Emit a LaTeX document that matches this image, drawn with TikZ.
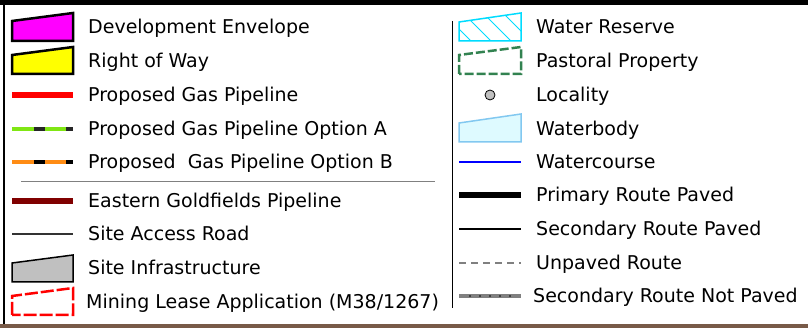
\documentclass[tikz,border=0pt]{standalone}
\usepackage{fontspec}
\setmainfont{DejaVu Sans}
\usetikzlibrary{positioning}

\definecolor{magentaenv}{RGB}{255,0,255}
\definecolor{waycol}{RGB}{255,255,0}
\definecolor{optgreen}{RGB}{128,230,20}
\definecolor{optorange}{RGB}{255,140,20}
\definecolor{goldfields}{RGB}{128,0,0}
\definecolor{infragray}{RGB}{192,192,192}
\definecolor{reservecyan}{RGB}{0,220,255}
\definecolor{pastoral}{RGB}{50,130,80}
\definecolor{waterfill}{RGB}{222,250,255}
\definecolor{waterline}{RGB}{130,200,240}
\definecolor{mapbrown}{RGB}{120,90,72}

\tikzset{
  legtext/.style={anchor=base west, inner sep=0pt, font=\fontsize{19}{22}\selectfont},
  legsym/.style={line width=1.5pt, line join=miter},
}

\begin{document}
\begin{tikzpicture}[x=1pt, y=-1pt]
	\useasboundingbox (0,0) rectangle (808,328);
	% frame of the legend
	\fill[black] (0,0) rectangle (808,5);
	\fill[mapbrown] (0,324) rectangle (808,328);
	\draw[line width=1.5pt] (4,5) -- (4,324);
	\draw[line width=1pt] (452,21) -- (452,308);
	\draw[line width=1pt, gray] (21,182) -- (435,182);

	% left column
	\filldraw[legsym, line width=2.5pt, fill=magentaenv] (12,41) -- (12,21) -- (73,13) -- (73,41) -- cycle;
	\node [legtext] (envelope) at (88,34) {Development Envelope};
	\filldraw[legsym, line width=2.5pt, fill=waycol] (12,74) -- (12,55) -- (73,47) -- (73,74) -- cycle;
	\node [legtext] (rightofway) at (88,68) {Right of Way};
	\draw[red, line width=5.5pt] (12,95) -- (73,95);
	\node [legtext] (gaspipe) at (88,102) {Proposed Gas Pipeline};
	\draw[optgreen, line width=4.5pt] (12,129) -- (73,129);
	\draw[black!85, line width=4.5pt] (34,129) -- (45,129) (66,129) -- (73,129);
	\node [legtext] (optiona) at (88,136) {Proposed Gas Pipeline Option A};
	\draw[optorange, line width=4.5pt] (12,162) -- (73,162);
	\draw[black, line width=4.5pt] (34,162) -- (45,162) (66,162) -- (73,162);
	\node [legtext] (optionb) at (88,169) {Proposed\ \ Gas Pipeline Option B};
	\draw[goldfields, line width=5.5pt] (12,201) -- (73,201);
	\node [legtext] (goldfields) at (88,208) {Eastern Goldfields Pipeline};
	\draw[black!80, line width=2pt] (12,234) -- (73,234);
	\node [legtext] (access) at (88,241) {Site Access Road};
	\filldraw[legsym, fill=infragray] (12,282) -- (12,263) -- (73,255) -- (73,282) -- cycle;
	\node [legtext] (infra) at (88,275) {Site Infrastructure};
	\draw[legsym, red, line width=2.5pt, dash pattern=on 13pt off 3pt] (12,315) -- (12,296) -- (73,288) -- (73,315) -- cycle;
	\node [legtext] (lease) at (86,309) {Mining Lease Application (M38/1267)};

	% right column
	\begin{scope}
		\clip (459,41) -- (459,22) -- (521,13) -- (521,41) -- cycle;
		\foreach \s in {440,460,480,500,520}
			\draw[reservecyan, line width=0.8pt] (\s,10) -- (\s+34,44);
	\end{scope}
	\draw[legsym, reservecyan] (459,41) -- (459,22) -- (521,13) -- (521,41) -- cycle;
	\node [legtext] (reserve) at (536,34) {Water Reserve};
	\draw[legsym, pastoral, line width=2.5pt, dash pattern=on 9pt off 3pt] (459,74) -- (459,55) -- (521,47) -- (521,74) -- cycle;
	\node [legtext] (pastoral) at (536,68) {Pastoral Property};
	\filldraw[fill=infragray, line width=0.8pt] (490,95) circle (5);
	\node [legtext] (locality) at (536,102) {Locality};
	\filldraw[legsym, draw=waterline, fill=waterfill] (459,142) -- (459,123) -- (521,114) -- (521,142) -- cycle;
	\node [legtext] (waterbody) at (536,136) {Waterbody};
	\draw[blue, line width=2.5pt] (459,162) -- (521,162);
	\node [legtext] (watercourse) at (536,169) {Watercourse};
	\draw[black, line width=5.5pt] (459,195) -- (521,195);
	\node [legtext] (primary) at (536,202) {Primary Route Paved};
	\draw[black, line width=2.5pt] (459,229) -- (521,229);
	\node [legtext] (secondary) at (536,236) {Secondary Route Paved};
	\draw[gray, line width=2.5pt, dash pattern=on 7pt off 5pt] (459,263) -- (521,263);
	\node [legtext] (unpaved) at (536,270) {Unpaved Route};
	\draw[gray, line width=4pt] (459,296) -- (521,296);
	\foreach \d in {470,480,...,510}
		\fill[black] (\d,296) circle (0.9);
	\node [legtext] (notpaved) at (533,303) {Secondary Route Not Paved};
\end{tikzpicture}
\end{document}
